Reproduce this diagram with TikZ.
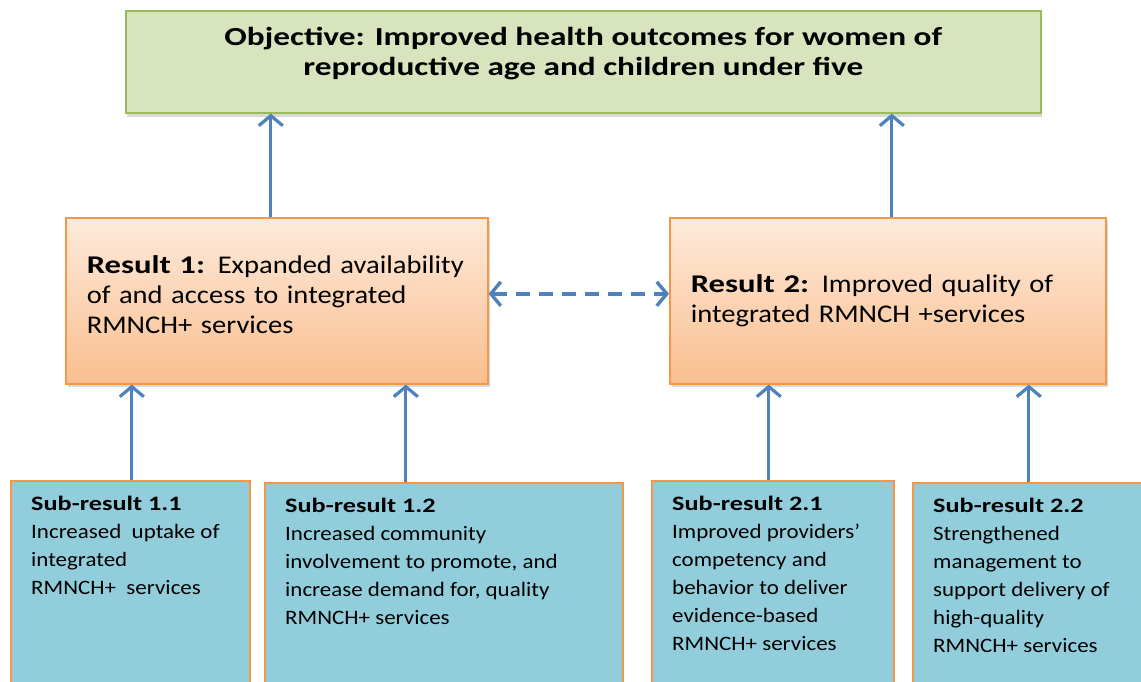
\documentclass[tikz,border=0pt]{standalone}
\usepackage{fontspec}
\setmainfont{Carlito}[FakeStretch=1.12,BoldFeatures={FakeStretch=1.28}]
\usetikzlibrary{arrows.meta,shadows}

\definecolor{objfill}{HTML}{D7E4BD}
\definecolor{objline}{HTML}{9BBB59}
\definecolor{restop}{HTML}{FDEADB}
\definecolor{resbot}{HTML}{FABF8F}
\definecolor{resline}{HTML}{F79646}
\definecolor{subfill}{HTML}{92CDDC}
\definecolor{arrowblue}{HTML}{4F81BD}

\tikzset{
  objbox/.style={draw=objline,fill=objfill,line width=1.6pt,anchor=north west,
    drop shadow={opacity=0.3,shadow xshift=1pt,shadow yshift=-4pt}},
  resbox/.style={draw=resline,top color=restop,bottom color=resbot,line width=1.6pt,
    anchor=north west,align=left,inner xsep=21pt,
    font=\fontsize{25.5}{30}\selectfont,
    drop shadow={opacity=0.3,shadow xshift=2pt,shadow yshift=-3pt}},
  subbox/.style={draw=resline,fill=subfill,line width=1.6pt,anchor=north west,
    minimum height=260pt},
  subtext/.style={anchor=north west,align=left,inner sep=0pt,
    font=\fontsize{20.5}{28}\selectfont},
  uparrow/.style={arrowblue,line width=3.2pt,-{Straight Barb[length=10pt,width=24pt]}},
  linkarrow/.style={arrowblue,line width=3.4pt,dash pattern=on 14pt off 9pt,
    {Straight Barb[length=10pt,width=24pt]}-{Straight Barb[length=10pt,width=24pt]}}
}

\begin{document}
\begin{tikzpicture}[x=1pt,y=-1pt]
  \useasboundingbox (0,0) rectangle (1141,681);
  \clip (0,0) rectangle (1141,681);

  % objective on top
  \node[objbox,minimum width=915pt,minimum height=102pt] (obj) at (125,10) {};
  \node[align=center,font=\fontsize{26}{30}\selectfont\bfseries] (objtext)
    at ([yshift=8pt]obj.center)
    {Objective: Improved health outcomes for women of\\reproductive age and children under five};

  % the two results
  \node[resbox,minimum width=422pt,minimum height=166pt,text width=380pt,
    text depth=72pt] (res1) at (65,217)
    {\textbf{Result 1:} Expanded availability\\of and access to integrated\\RMNCH+ services};
  \node[resbox,minimum width=436pt,minimum height=166pt,text width=394pt] (res2) at (669,217)
    {\textbf{Result 2:} Improved quality of\\integrated RMNCH +services};

  % sub-results along the bottom
  \node[subbox,minimum width=239pt] (sub11) at (10,480) {};
  \node[subbox,minimum width=358pt] (sub12) at (264,482) {};
  \node[subbox,minimum width=242pt] (sub21) at (651,480) {};
  \node[subbox,minimum width=260pt] (sub22) at (912,482) {};
  \node[subtext] (sub11text) at ([xshift=21pt,yshift=-16pt]sub11.north west)
    {\textbf{Sub-result 1.1}\\Increased \ uptake of\\integrated\\RMNCH+ \ services};
  \node[subtext] (sub12text) at ([xshift=21pt,yshift=-16pt]sub12.north west)
    {\textbf{Sub-result 1.2}\\Increased community\\involvement to promote, and\\increase demand for, quality\\RMNCH+ services};
  \node[subtext] (sub21text) at ([xshift=21pt,yshift=-16pt]sub21.north west)
    {\textbf{Sub-result 2.1}\\Improved providers'\\competency and\\behavior to deliver\\evidence-based\\RMNCH+ services};
  \node[subtext] (sub22text) at ([xshift=21pt,yshift=-16pt]sub22.north west)
    {\textbf{Sub-result 2.2}\\Strengthened\\management to\\support delivery of\\high-quality\\RMNCH+ services};

  % arrows
  \draw[uparrow] ([xshift=-6pt]res1.north) -- ([xshift=-6pt]res1.north |- obj.south);
  \draw[uparrow] ([xshift=4pt]res2.north) -- ([xshift=4pt]res2.north |- obj.south);
  \draw[uparrow] ([xshift=1.5pt]sub11.north) -- ([xshift=1.5pt]sub11.north |- res1.south);
  \draw[uparrow] ([xshift=-38pt]sub12.north) -- ([xshift=-38pt]sub12.north |- res1.south);
  \draw[uparrow] ([xshift=-4pt]sub21.north) -- ([xshift=-4pt]sub21.north |- res2.south);
  \draw[uparrow] ([xshift=-14pt]sub22.north) -- ([xshift=-14pt]sub22.north |- res2.south);
  \draw[linkarrow] ([yshift=7pt]res1.east) -- ([yshift=7pt]res2.west);
\end{tikzpicture}
\end{document}
